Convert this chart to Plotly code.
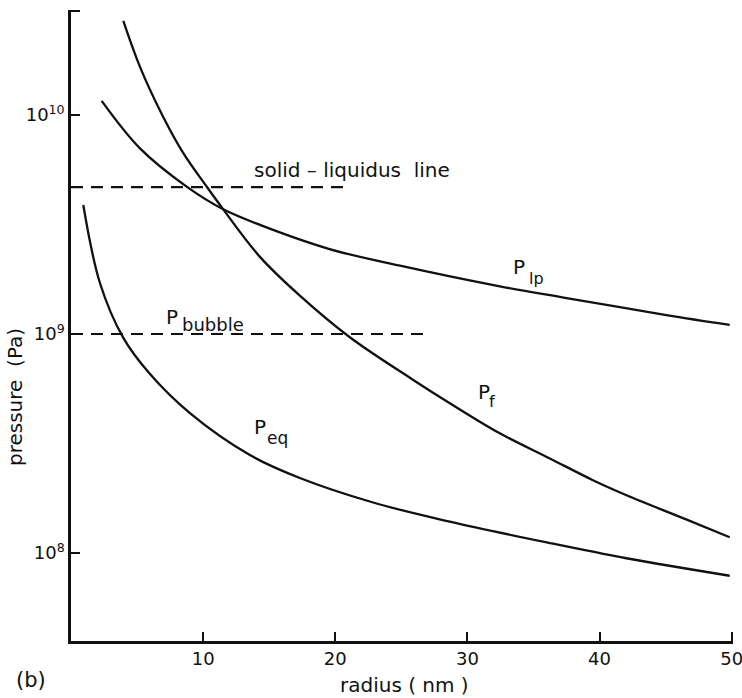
import plotly.graph_objects as go

# ---- data ----
radius_f = [3.96, 5.22, 6.98, 8.50, 10.29, 11.52, 14.3, 17.3, 21.1, 25.9, 28.67, 32.45, 36.2, 39.5, 42.0, 46.6, 49.85]
p_f = [2.69e10, 1.66e10, 9.8e9, 6.7e9, 4.69e9, 3.71e9, 2.25e9, 1.5e9, 9.66e8, 6.17e8, 4.83e8, 3.52e8,
       2.71e8, 2.15e8, 1.84e8, 1.42e8, 1.18e8]

radius_lp = [2.32, 5.22, 8.75, 11.52, 14.3, 19.5, 24.9, 32.45, 37.5, 45.06, 49.85]
p_lp = [1.16e10, 7.04e9, 4.71e9, 3.71e9, 3.15e9, 2.45e9, 2.05e9, 1.65e9, 1.46e9, 1.22e9, 1.10e9]

radius_eq = [0.93, 2.19, 3.96, 5.98, 9.0, 13.54, 17.32, 22.87, 28.67, 36.23, 42.03, 49.85]
p_eq = [3.88e9, 1.71e9, 9.6e8, 6.56e8, 4.35e8, 2.80e8, 2.2e8, 1.70e8, 1.39e8, 1.11e8, 9.46e7, 7.87e7]

solidus_x = [0, 20.85]
solidus_p = [4.69e9, 4.69e9]
bubble_x = [0, 27.16]
bubble_p = [1.0e9, 1.0e9]

x_ticks = [10, 20, 30, 40, 50]
x_ticktext = ["10", "20", "30", "40", "50"]
y_ticks = [1e8, 1e9, 1e10, 10 ** 10.474]
y_ticktext = ["10<sup>8</sup>", "10<sup>9</sup>", "10<sup>10</sup>", ""]

FONT = "DejaVu Sans"
INK = "#111111"

# pixel -> data helpers for label placement
def px_x(px):
    return (px - 71) / 13.21

def py_L(py):
    return 10 - (py - 115) / 219.0

fig = go.Figure()
for xs, ys in [(radius_f, p_f), (radius_lp, p_lp), (radius_eq, p_eq)]:
    fig.add_trace(go.Scatter(x=xs, y=ys, mode="lines",
                             line=dict(color=INK, width=2.3, shape="spline", smoothing=1.0),
                             showlegend=False, hoverinfo="skip"))
for xs, ys in [(solidus_x, solidus_p), (bubble_x, bubble_p)]:
    fig.add_trace(go.Scatter(x=xs, y=ys, mode="lines", line=dict(color=INK, width=2.2, dash="12px,8px"),
                             showlegend=False, hoverinfo="skip"))

def ann(text, px, py, size):
    fig.add_annotation(x=px_x(px), y=py_L(py), text=text, showarrow=False, xanchor="left", yanchor="middle",
                       font=dict(family=FONT, size=size, color=INK))

ann("solid \u2013 liquidus\u00a0\u00a0line", 252, 170, 20)
ann("P", 164, 317, 20)
ann("bubble", 180, 324, 18)
ann("P", 511, 267, 20)
ann("lp", 527, 278, 16)
ann("P", 476, 392, 20)
ann("f", 487, 402, 16)
ann("P", 252, 427, 20)
ann("eq", 265, 438, 17)

fig.add_annotation(xref="paper", yref="paper", x=(15 - 71) / 662, y=(641 - 397) / 631,
                   xanchor="center", yanchor="middle", text="pressure\u00a0\u00a0(Pa)", textangle=-90,
                   showarrow=False, font=dict(family=FONT, size=20, color=INK))
fig.add_annotation(xref="paper", yref="paper", x=(404 - 71) / 662, y=(641 - 685) / 631,
                   xanchor="center", yanchor="middle", text="radius ( nm )",
                   showarrow=False, font=dict(family=FONT, size=20, color=INK))
fig.add_annotation(xref="paper", yref="paper", x=(31 - 71) / 662, y=(641 - 680) / 631,
                   xanchor="center", yanchor="middle", text="(b)",
                   showarrow=False, font=dict(family=FONT, size=21, color=INK))

fig.update_layout(
    width=742, height=698,
    margin=dict(l=71, r=9, t=10, b=57, autoexpand=False),
    paper_bgcolor="white", plot_bgcolor="white",
    font=dict(family=FONT, size=18, color=INK),
)
fig.update_xaxes(range=[0, 50.1], showgrid=False, zeroline=False, showline=True, linewidth=2.5, linecolor=INK,
                 ticks="inside", ticklen=9, tickwidth=2, tickcolor=INK, tickvals=x_ticks, ticktext=x_ticktext,
                 automargin=False, ticklabeloverflow="allow", tickfont=dict(family=FONT, size=18, color=INK))
fig.update_yaxes(type="log", range=[7.598, 10.4796], showgrid=False, zeroline=False, showline=True, linewidth=2.5,
                 linecolor=INK, ticks="inside", ticklen=9, tickwidth=2, tickcolor=INK, tickvals=y_ticks,
                 ticktext=y_ticktext, automargin=False, ticklabeloverflow="allow",
                 tickfont=dict(family=FONT, size=18, color=INK))

fig.write_html("out.html")
